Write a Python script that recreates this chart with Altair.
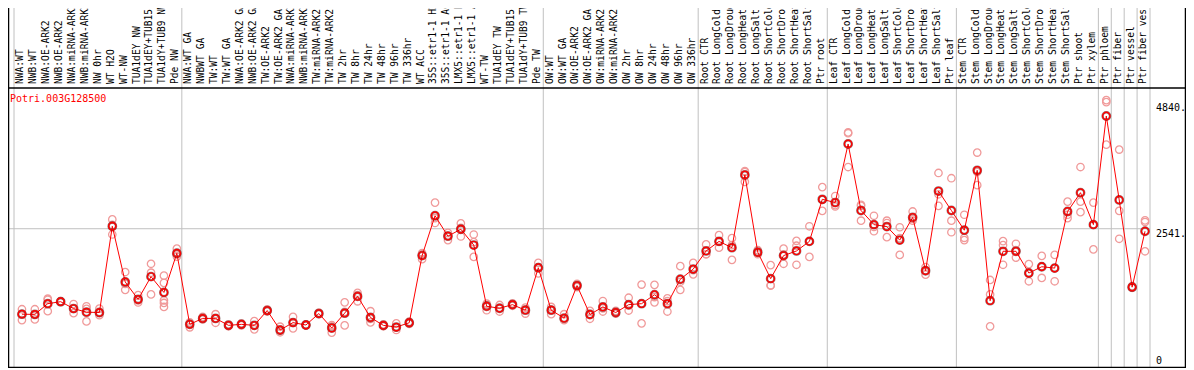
import altair as alt
import pandas as pd

FONT = "DejaVu Sans Mono"

title_text = "Potri.003G128500"

labels = [
    "NWA:WT", "NWB:WT", "NWA:OE-ARK2", "NWB:OE-ARK2", "NWA:miRNA-ARK2", "NWB:miRNA-ARK2",
    "NW 0hr", "WT H2O", "WT-NW", "TUA1dEY NW", "TUA1dEY+TUB15 NW", "TUA1dY+TUB9 NW", "Pde NW",
    "NWA:WT GA", "NWBWT GA", "TW:WT", "TW:WT GA", "NWA:OE-ARK2 GA", "NWB:OE-ARK2 GA",
    "TW:OE-ARK2", "TW:OE-ARK2 GA", "NWA:miRNA-ARK2 GA", "NWB:miRNA-ARK2 GA", "TW:miRNA-ARK2",
    "TW:miRNA-ARK2", "TW 2hr", "TW 8hr", "TW 24hr", "TW 48hr", "TW 96hr", "TW 336hr", "WT ACC",
    "35S::etr1-1 H2O", "35S::etr1-1 ACC", "LMX5::etr1-1 H2O", "LMX5::etr1-1 ACC", "WT-TW",
    "TUA1dEY TW", "TUA1dEY+TUB15 TW", "TUA1dY+TUB9 TW", "Pde TW",
    "OW:WT", "OW:WT GA", "OW:OE-ARK2", "OW:OE-ARK2 GA", "OW:miRNA-ARK2", "OW:miRNA-ARK2",
    "OW 2hr", "OW 8hr", "OW 24hr", "OW 48hr", "OW 96hr", "OW 336hr",
    "Root CTR", "Root LongCold", "Root LongDrought", "Root LongHeat", "Root LongSalt",
    "Root ShortCold", "Root ShortDrought", "Root ShortHeat", "Root ShortSalt", "Ptr root",
    "Leaf CTR", "Leaf LongCold", "Leaf LongDrought", "Leaf LongHeat", "Leaf LongSalt",
    "Leaf ShortCold", "Leaf ShortDrought", "Leaf ShortHeat", "Leaf ShortSalt", "Ptr leaf",
    "Stem CTR", "Stem LongCold", "Stem LongDrought", "Stem LongHeat", "Stem LongSalt",
    "Stem ShortCold", "Stem ShortDrought", "Stem ShortHeat", "Stem ShortSalt", "Ptr shoot",
    "Ptr xylem", "Ptr phloem", "Ptr fiber", "Ptr vessel", "Ptr fiber vessel",
]

means = [
    976, 972, 1169, 1205, 1079, 1013, 1007, 2586, 1567, 1248, 1664, 1374, 2092,
    790, 899, 899, 772, 790, 772, 1043, 687, 822, 778, 988, 723, 995, 1302, 916, 771, 741,
    819, 2049, 2779, 2405, 2532, 2242, 1121, 1085, 1151, 1049, 1826,
    1049, 904, 1500, 970, 1109, 1007, 1151, 1169, 1332, 1169, 1616, 1802,
    2134, 2309, 2194, 3526, 2110, 1627, 2049, 2134, 2309, 3080,
    3020, 4093, 2875, 2616, 2580, 2333, 2749, 1772, 3231, 2875,
    2514, 3611, 1223, 2128, 2128, 1730, 1845, 1820, 2857, 3201, 2616,
    4605, 3068, 1471, 2495,
]

replicates = [
    [1067, 868, 976], [1067, 880, 970], [1260, 1031, 1241], [1195, 1215, 1205],
    [1163, 995, 1079], [1121, 844, 1074], [1079, 1001, 959], [2712, 2436, 2610],
    [1748, 1422, 1531], [1326, 1230, 1190], [1899, 1736, 1338],
    [1682, 1549, 1230, 1182, 1109], [2176, 2031, 2070],
    [826, 736, 808], [929, 880, 890], [976, 819, 900], [790, 755, 772], [808, 772, 790],
    [850, 699, 768], [1063, 1025, 1043], [747, 645, 670], [928, 717, 822], [790, 770, 775],
    [1005, 975, 985], [775, 639, 755], [1193, 771, 1020], [1368, 1212, 1325],
    [1031, 826, 890], [790, 755, 768], [808, 687, 728], [840, 800, 817],
    [2070, 1983, 2094], [3020, 2646, 2736], [2465, 2333, 2417], [2640, 2399, 2557],
    [2435, 2297, 2025], [1169, 1049, 1145], [1145, 1025, 1085], [1175, 1130, 1148],
    [1097, 988, 1062], [1917, 1724, 1837],
    [1109, 976, 1062], [976, 868, 880], [1531, 1471, 1500], [1037, 892, 980],
    [1218, 1025, 1084], [1037, 985, 1000], [1278, 1043, 1132], [1519, 1169, 808],
    [1513, 1193, 1290], [1266, 1025, 1216], [1856, 1422, 1570], [1917, 1706, 1783],
    [2254, 2074, 2074], [2423, 2194, 2309], [2369, 1971, 2242], [3580, 3400, 3598],
    [2150, 2074, 2106], [1875, 1501, 1505], [2176, 1899, 2072], [2320, 2230, 1881],
    [2586, 2025, 2316], [3303, 2869, 3068],
    [3140, 2948, 2972], [4304, 4290, 3671], [2978, 2688, 2960], [2779, 2495, 2574],
    [2688, 2387, 2646], [2568, 2062, 2369], [2857, 2719, 2690], [1840, 1700, 1776],
    [3562, 2959, 3172], [3466, 2688, 2477],
    [2797, 2375, 2333], [3936, 3339, 3580], [1603, 1338, 754], [2315, 2242, 1881],
    [2266, 2150, 2013], [1893, 1579, 1720], [2043, 1640, 1850], [2062, 1579, 1820],
    [3038, 2736, 2797], [3671, 3038, 2845], [3020, 2164, 2616],
    [4895, 4860, 4081], [3991, 2869, 2357], [1490, 1460, 1471], [2664, 2128, 2693],
]

# category index at which each group (column block) starts; last = end
group_starts = [0, 13, 41, 53, 63, 73, 84, 85, 86, 87, 88]
tick_values = [0, 2541, 4840]
tick_labels = ["0", "2541.", "4840."]

n = len(labels)

# ---- layout (pixels inside the chart) ----
W = 1178
H = 360
DIVIDER_PX = 80          # header / plot divider, from top
BOTTOM_PX = 359.5        # bottom frame line (value 0)
FIRST_SEP_PX = 6.0
LAST_SEP_PX = 1142.0
SEP_SHIFT = 0.615        # separators sit this far left of a category point
PLOT_TOP_VALUE = 5118.0  # value at the divider

step = (LAST_SEP_PX - FIRST_SEP_PX) / group_starts[-1]
u_at_zero = -(FIRST_SEP_PX / step) - SEP_SHIFT
X_DOMAIN = [u_at_zero, u_at_zero + W / step]
FRAME_L = X_DOMAIN[0] + 0.5 / step
FRAME_R = X_DOMAIN[1] - 0.5 / step

px_per_unit = (BOTTOM_PX - DIVIDER_PX) / PLOT_TOP_VALUE
Y_LOW = -(H - BOTTOM_PX) / px_per_unit
Y_HIGH = BOTTOM_PX / px_per_unit

xs = alt.Scale(domain=X_DOMAIN, nice=False, zero=False)
ys = alt.Scale(domain=[Y_LOW, Y_HIGH], nice=False, zero=False)

mean_df = pd.DataFrame({
    "idx": list(range(n)),
    "label": labels,
    "value": means,
    "lx": [i - 0.12 for i in range(n)],
})
rep_df = pd.DataFrame(
    [{"idx": i, "value": v} for i, vals in enumerate(replicates) for v in vals]
)
sep_df = pd.DataFrame({"b": [k - SEP_SHIFT for k in group_starts]})
vframe_df = pd.DataFrame({"e": [FRAME_L, FRAME_R]})
hframe_df = pd.DataFrame({"x0": [FRAME_L, FRAME_L], "x1": [FRAME_R, FRAME_R],
                          "y": [0, PLOT_TOP_VALUE]})
grid_df = pd.DataFrame({
    "x0": [X_DOMAIN[0]],
    "x1": [group_starts[-1] - SEP_SHIFT],
    "y": [tick_values[1]],
})
tick_df = pd.DataFrame({"v": tick_values, "t": tick_labels})
title_df = pd.DataFrame({"t": [title_text]})

GRAY = "#c0c0c0"
X = lambda f: alt.X(f, scale=xs, axis=None)
Y = lambda f: alt.Y(f, scale=ys, axis=None)

seps = alt.Chart(sep_df).mark_rule(color=GRAY, strokeWidth=1).encode(x=X("b:Q"))
grid_rule = alt.Chart(grid_df).mark_rule(color=GRAY, strokeWidth=1).encode(
    x=X("x0:Q"), x2="x1:Q", y=Y("y:Q")
)
vframe = alt.Chart(vframe_df).mark_rule(color="black", strokeWidth=1.5).encode(x=X("e:Q"))
hframe = alt.Chart(hframe_df).mark_rule(color="black", strokeWidth=1.5).encode(
    x=X("x0:Q"), x2="x1:Q", y=Y("y:Q")
)

header_text = alt.Chart(mean_df).mark_text(
    angle=270, align="left", baseline="middle", font=FONT, fontSize=9.6, color="black"
).encode(
    x=X("lx:Q"),
    y=alt.value(DIVIDER_PX - 4),
    text="label:N",
)

rep_pts = alt.Chart(rep_df).mark_point(
    shape="circle", filled=False, size=55, color="#f09a9a", strokeWidth=1.3, opacity=1
).encode(x=X("idx:Q"), y=Y("value:Q"))
line = alt.Chart(mean_df).mark_line(color="#ff0000", strokeWidth=1).encode(
    x=X("idx:Q"), y=Y("value:Q")
)
mean_dark = alt.Chart(mean_df).mark_point(
    shape="circle", filled=False, size=55, color="#300000", strokeWidth=2.4, opacity=0.5
).encode(x=X("idx:Q"), y=Y("value:Q"))
mean_pts = alt.Chart(mean_df).mark_point(
    shape="circle", filled=False, size=55, color="#ff0000", strokeWidth=1.4, opacity=1
).encode(x=X("idx:Q"), y=Y("value:Q"))

title_mark = alt.Chart(title_df).mark_text(
    align="left", baseline="middle", font=FONT, fontSize=10, color="#ff0000"
).encode(x=alt.value(2), y=alt.value(DIVIDER_PX + 11), text="t:N")

tick_top = alt.Chart(tick_df).transform_filter("datum.v > 0").mark_text(
    align="left", baseline="top", font=FONT, fontSize=10, color="black", dy=0
).encode(x=alt.value(LAST_SEP_PX + 6), y=Y("v:Q"), text="t:N")
tick_zero = alt.Chart(tick_df).transform_filter("datum.v == 0").mark_text(
    align="left", baseline="bottom", font=FONT, fontSize=10, color="black", dy=-2
).encode(x=alt.value(LAST_SEP_PX + 6), y=Y("v:Q"), text="t:N")

chart = alt.layer(
    seps, grid_rule, hframe, vframe, header_text,
    rep_pts, line, mean_dark, mean_pts, title_mark, tick_top, tick_zero,
).properties(
    width=W, height=H, padding=0,
    autosize=alt.AutoSizeParams(type="none"),
    background="white",
).configure_view(stroke=None)

chart.save("out.html", embed_options={"renderer": "svg", "actions": False})
